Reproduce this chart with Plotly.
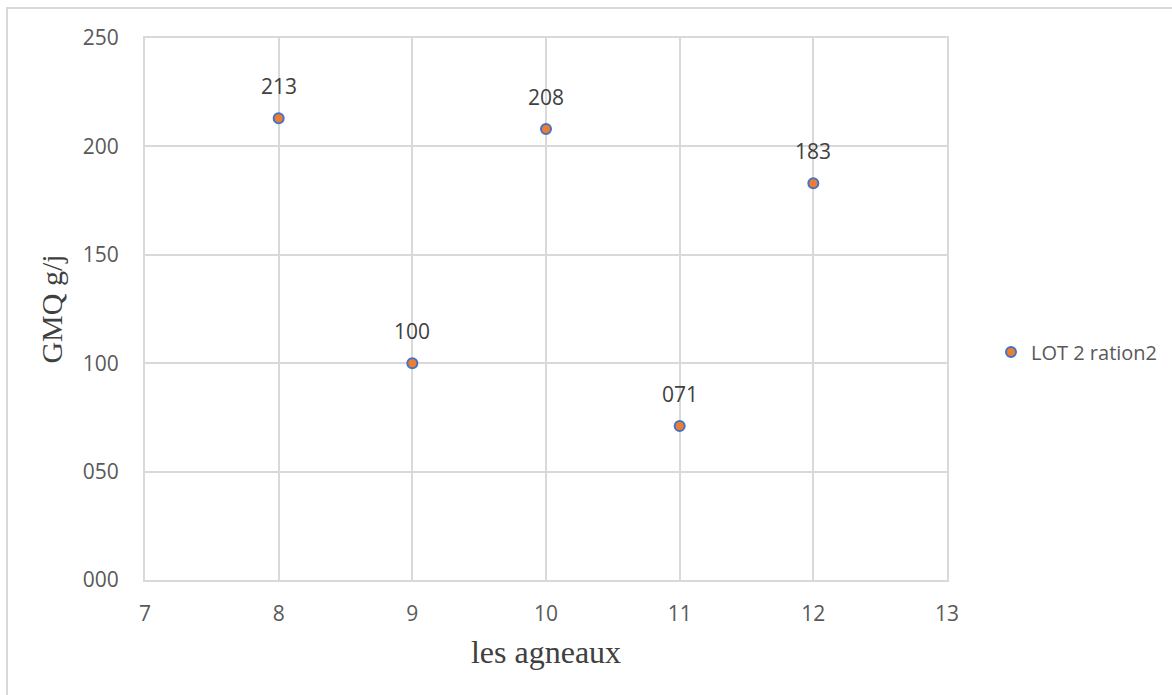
import plotly.graph_objects as go

# Average daily gain (g/j) per lamb, lot 2
agneaux = [8, 9, 10, 11, 12]
gmq = [213, 100, 208, 71, 183]
serie = "LOT 2 ration2"

y_ticks = [0, 50, 100, 150, 200, 250]
x_ticks = [7, 8, 9, 10, 11, 12, 13]

W, H = 1172, 695
L, R, T, B = 145, 225, 38, 115
pw, ph = W - L - R, H - T - B

grid = "#d9d9d9"
txt = "#595959"

fig = go.Figure()
fig.add_trace(go.Scatter(
    x=agneaux, y=gmq, mode="markers", name=serie,
    marker=dict(size=10, color="#ED7D31", line=dict(color="#4472C4", width=2)),
    hoverinfo="x+y",
))

for xv, yv in zip(agneaux, gmq):
    fig.add_annotation(x=xv, y=yv, text=f"{yv:03d}", showarrow=False,
                       yshift=32, font=dict(family="Open Sans", size=21, color="#404040"))

# outer chart border (top and left edges visible)
fig.add_shape(type="rect", xref="paper", yref="paper",
              x0=(7 - L) / pw, x1=(W + 20 - L) / pw,
              y0=(H - B - (H + 20)) / ph, y1=(H - B - 8) / ph,
              line=dict(color="#d9d9d9", width=2), fillcolor="rgba(0,0,0,0)", layer="below")

fig.update_layout(
    width=W, height=H,
    margin=dict(l=L, r=R, t=T, b=B, autoexpand=False),
    paper_bgcolor="white", plot_bgcolor="white",
    showlegend=True,
    legend=dict(x=(991 - L) / pw, y=(H - B - 352) / ph, xanchor="left", yanchor="middle",
                font=dict(family="Open Sans", size=20, color=txt), itemsizing="trace"),
    xaxis=dict(range=[7, 13], tickvals=x_ticks, showgrid=True, gridcolor=grid, gridwidth=2,
               showline=True, linecolor=grid, linewidth=2, mirror=True, zeroline=False,
               tickfont=dict(family="Open Sans", size=21, color=txt), ticks="outside", ticklen=14,
               tickcolor="rgba(0,0,0,0)",
               title=dict(text="les agneaux", font=dict(family="Liberation Serif", size=32, color="#404040"),
                          standoff=14)),
    yaxis=dict(range=[0, 250], tickvals=y_ticks, tickformat="03d", showgrid=True, gridcolor=grid, gridwidth=2,
               showline=True, linecolor=grid, linewidth=2, mirror=True, zeroline=False,
               tickfont=dict(family="Open Sans", size=21, color=txt), ticks="outside", ticklen=20,
               tickcolor="rgba(0,0,0,0)",
               title=dict(text="GMQ g/j", font=dict(family="Liberation Serif", size=30, color="#404040"),
                          standoff=11)),
)

fig.write_html("out.html")
